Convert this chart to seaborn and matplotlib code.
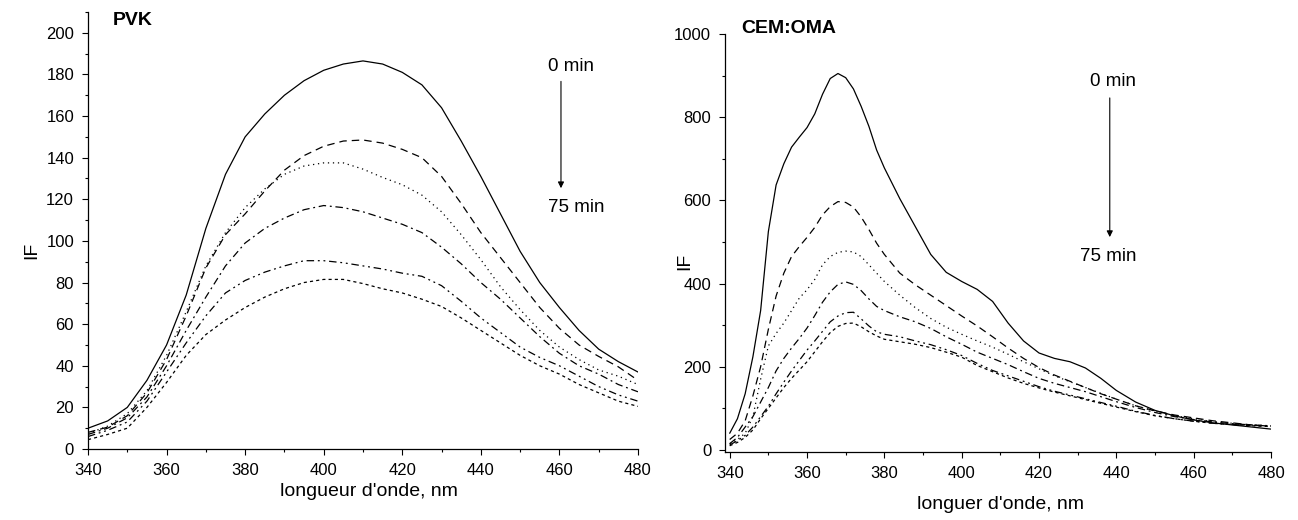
import numpy as np
import pandas as pd
import matplotlib
matplotlib.use("Agg")
import matplotlib.pyplot as plt
from matplotlib.ticker import MultipleLocator
import seaborn as sns

# ---- PVK panel (left) ----
pvk_wl = [340, 345, 350, 355, 360, 365, 370, 375, 380, 385, 390, 395, 400, 405, 410,
          415, 420, 425, 430, 435, 440, 445, 450, 455, 460, 465, 470, 475, 480]
pvk_0 = [10, 13.5, 20, 33, 50, 74, 106, 132, 150, 161, 170, 177, 182, 185, 186.5,
         185, 181, 175, 164, 148, 131, 113, 95, 80, 68, 57, 48, 42, 37]
pvk_15 = [8, 10.5, 16, 27, 43, 64, 87, 103, 113, 124, 134, 141, 145.5, 148, 148.5,
          147, 144, 140, 131, 118, 104, 92, 80, 68, 58, 50, 44.5, 39.5, 33]
pvk_30 = [7.5, 11, 17, 28, 45, 66, 88, 104, 116, 125, 132, 136, 137.5, 137.5, 134.5,
          130.5, 127, 122, 114, 103, 91, 78, 67, 57, 49, 43, 38, 35, 31]
pvk_45 = [7, 10, 15, 25, 40, 57, 73, 88, 99, 106, 111, 115, 117, 116, 114,
          111, 108, 104, 97, 89, 80, 72, 63, 54, 46, 40, 36, 31, 27.5]
pvk_60 = [6, 9, 13, 23, 37, 51, 64, 75, 81, 85, 88, 90.5, 90.5, 89.5, 88,
          86.5, 84.5, 83, 78.5, 71, 63, 56, 49, 44, 40, 35, 30, 26, 23]
pvk_75 = [4.5, 7, 10, 20, 32, 45, 55, 62, 68, 73, 77, 80, 81.5, 81.5, 79.5,
          77, 75, 72, 68.5, 63, 57, 51, 45, 40, 36, 31, 27, 23, 20.5]

# ---- CEM:OMA panel (right) ----
cem_wl = [340, 342, 344, 346, 348, 350, 352, 354, 356, 358, 360, 362, 364, 366, 368,
          370, 372, 374, 376, 378, 380, 384, 388, 392, 396, 400, 404, 408, 412, 416,
          420, 424, 428, 432, 436, 440, 445, 450, 455, 460, 465, 470, 475, 480]
cem_0 = [40, 75, 135, 224, 335, 525, 637, 688, 728, 752, 775, 808, 855, 893, 905,
         895, 868, 826, 778, 721, 678, 604, 537, 470, 427, 405, 386, 357, 305, 262,
         233, 220, 212, 197, 172, 143, 115, 95, 82, 72, 65, 60, 55, 50]
cem_15 = [25, 40, 70, 130, 200, 290, 370, 425, 465, 489, 511, 535, 565, 585, 597,
          595, 584, 560, 530, 497, 470, 425, 397, 372, 347, 322, 298, 272, 245, 220,
          198, 180, 165, 150, 135, 122, 106, 94, 84, 77, 70, 65, 60, 57]
cem_30 = [15, 25, 40, 80, 170, 250, 280, 305, 335, 365, 385, 410, 445, 465, 475,
          478, 476, 465, 445, 425, 405, 372, 342, 316, 295, 278, 262, 247, 230, 212,
          195, 178, 164, 150, 136, 122, 106, 93, 82, 75, 68, 64, 60, 58]
cem_45 = [15, 30, 55, 80, 115, 150, 190, 220, 245, 268, 293, 323, 355, 380, 398,
          404, 398, 383, 363, 345, 335, 320, 308, 292, 272, 254, 235, 220, 205, 188,
          172, 160, 150, 140, 128, 116, 102, 90, 80, 73, 67, 63, 60, 58]
cem_60 = [12, 22, 35, 55, 80, 105, 135, 163, 190, 215, 240, 262, 285, 308, 322,
          330, 331, 315, 298, 284, 278, 272, 262, 253, 241, 227, 208, 191, 178, 165,
          152, 141, 132, 123, 114, 105, 93, 83, 75, 69, 64, 61, 59, 57]
cem_75 = [10, 18, 30, 48, 75, 100, 125, 150, 172, 192, 212, 236, 260, 282, 297,
          304, 305, 296, 284, 274, 266, 260, 254, 246, 235, 223, 203, 188, 173, 160,
          149, 139, 130, 121, 112, 103, 92, 82, 75, 69, 64, 61, 58, 56]

times = ["0 min", "15 min", "30 min", "45 min", "60 min", "75 min"]
dash_styles = {
    "0 min": "",
    "15 min": (6, 4),
    "30 min": (1, 3),
    "45 min": (6, 3, 1.5, 3),
    "60 min": (6, 3, 1.5, 3, 1.5, 3),
    "75 min": (2.5, 2.5),
}


def to_long(wl, series):
    frames = []
    for t, vals in zip(times, series):
        frames.append(pd.DataFrame({"wl": wl, "IF": vals, "time": t}))
    return pd.concat(frames, ignore_index=True)


df_pvk = to_long(pvk_wl, [pvk_0, pvk_15, pvk_30, pvk_45, pvk_60, pvk_75])
df_cem = to_long(cem_wl, [cem_0, cem_15, cem_30, cem_45, cem_60, cem_75])

sns.set_style("ticks")
plt.rcParams["font.family"] = ["Liberation Sans", "DejaVu Sans"]
plt.rcParams["xtick.direction"] = "out"
plt.rcParams["ytick.direction"] = "out"
for key in ["text.color", "axes.labelcolor", "xtick.color", "ytick.color", "axes.edgecolor"]:
    plt.rcParams[key] = "black"

fig = plt.figure(figsize=(12.98, 5.2), dpi=100)
ax1 = fig.add_axes([0.0678, 0.1365, 0.4237, 0.8404])
ax2 = fig.add_axes([0.5586, 0.1308, 0.4206, 0.8038])

for ax, df in [(ax1, df_pvk), (ax2, df_cem)]:
    sns.lineplot(data=df, x="wl", y="IF", style="time", style_order=times,
                 dashes=dash_styles, color="black", linewidth=0.9,
                 estimator=None, sort=False, legend=False, ax=ax)
    for s in ["top", "right"]:
        ax.spines[s].set_visible(False)
    for s in ["left", "bottom"]:
        ax.spines[s].set_linewidth(0.9)
    ax.xaxis.set_major_locator(MultipleLocator(20))
    ax.xaxis.set_minor_locator(MultipleLocator(10))
    ax.tick_params(which="major", length=4, width=0.8, labelsize=12, pad=6, colors="black")
    ax.tick_params(which="minor", length=2.5, width=0.8)
    ax.set_xlabel("")
    ax.set_ylabel("")

# left panel
ax1.set_xlim(340, 480)
ax1.set_ylim(0, 210)
ax1.yaxis.set_major_locator(MultipleLocator(20))
ax1.yaxis.set_minor_locator(MultipleLocator(10))
ax1.set_xlabel("longueur d'onde, nm", fontsize=14)
ax1.set_ylabel("IF", fontsize=14)
ax1.xaxis.set_label_coords(0.511, -0.077)
ax1.yaxis.set_label_coords(-0.086, 0.455)
ax1.text(346.4, 205.8, "PVK", fontsize=14, fontweight="bold", ha="left", va="center")
ax1.text(457.1, 184, "0 min", fontsize=13.5, ha="left", va="center")
ax1.text(457.1, 116, "75 min", fontsize=13.5, ha="left", va="center")
ax1.annotate("", xy=(460.4, 124), xytext=(460.4, 178),
             arrowprops=dict(arrowstyle="-|>", color="black", lw=0.8, mutation_scale=9))

# right panel
ax2.set_xlim(338.8, 480)
ax2.set_ylim(-5, 1000)
ax2.yaxis.set_major_locator(MultipleLocator(200))
ax2.yaxis.set_minor_locator(MultipleLocator(100))
ax2.set_xlabel("longuer d'onde, nm", fontsize=14)
ax2.set_ylabel("IF", fontsize=14)
ax2.xaxis.set_label_coords(0.504, -0.105)
ax2.yaxis.set_label_coords(-0.059, 0.455)
ax2.text(343.1, 1014, "CEM:OMA", fontsize=14, fontweight="bold", ha="left", va="center")
ax2.text(433.2, 885, "0 min", fontsize=13.5, ha="left", va="center")
ax2.text(430.6, 464, "75 min", fontsize=13.5, ha="left", va="center")
ax2.annotate("", xy=(438.3, 505), xytext=(438.3, 853),
             arrowprops=dict(arrowstyle="-|>", color="black", lw=0.8, mutation_scale=9))

fig.savefig("out.png", dpi=100)
